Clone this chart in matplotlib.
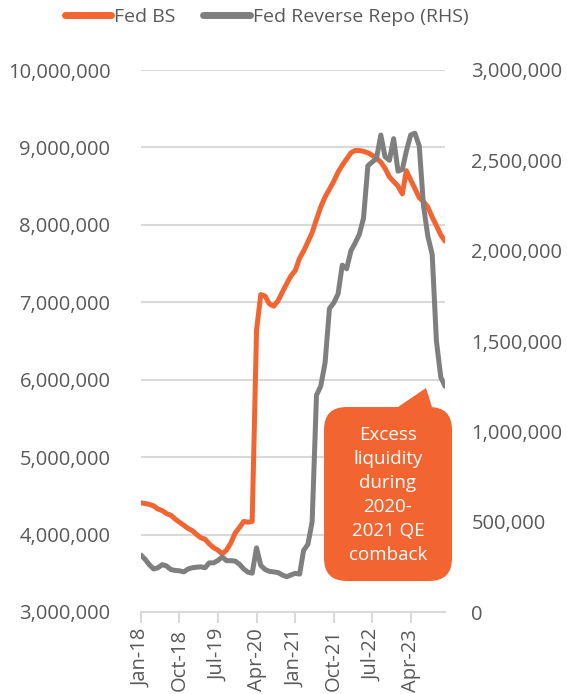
import matplotlib
matplotlib.use("Agg")
import matplotlib.pyplot as plt
import matplotlib.dates as mdates
from matplotlib.patches import FancyBboxPatch, Polygon
from matplotlib.ticker import FuncFormatter
import pandas as pd

plt.rcParams['font.family'] = ['Open Sans', 'DejaVu Sans']

# Datos mensuales, ene-2018 a dic-2023
fechas = pd.date_range('2018-01-01', periods=72, freq='MS')

# Balance de la Fed (eje izquierdo), en millones
fed_bs = [
    4.41, 4.40, 4.39, 4.37, 4.33, 4.31, 4.27, 4.25, 4.20, 4.16,
    4.12, 4.08, 4.05, 4.00, 3.96, 3.94, 3.88, 3.83, 3.80, 3.75,
    3.80, 3.89, 4.02, 4.09, 4.17, 4.16, 4.17, 6.64, 7.10, 7.08,
    6.98, 6.95, 7.02, 7.13, 7.24, 7.34, 7.41, 7.57, 7.66, 7.78,
    7.90, 8.07, 8.23, 8.36, 8.46, 8.56, 8.68, 8.77, 8.85, 8.93,
    8.96, 8.96, 8.95, 8.93, 8.90, 8.86, 8.81, 8.73, 8.62, 8.56,
    8.50, 8.40, 8.70, 8.58, 8.47, 8.35, 8.30, 8.23, 8.10, 7.99,
    7.87, 7.79,
]

# Reverse repo de la Fed (eje derecho), en millones
fed_rrp = [
    0.315, 0.290, 0.262, 0.238, 0.245, 0.262, 0.255, 0.235, 0.230, 0.228,
    0.222, 0.238, 0.245, 0.248, 0.250, 0.245, 0.272, 0.272, 0.285, 0.305,
    0.284, 0.284, 0.282, 0.265, 0.238, 0.220, 0.215, 0.355, 0.258, 0.235,
    0.225, 0.222, 0.218, 0.205, 0.195, 0.205, 0.214, 0.210, 0.340, 0.375,
    0.500, 1.200, 1.250, 1.380, 1.680, 1.710, 1.760, 1.920, 1.900, 2.000,
    2.040, 2.090, 2.180, 2.470, 2.490, 2.510, 2.640, 2.520, 2.500, 2.620,
    2.440, 2.450, 2.550, 2.640, 2.650, 2.580, 2.250, 2.080, 1.980, 1.500,
    1.300, 1.250,
]

etiquetas_leyenda = ['Fed BS', 'Fed Reverse Repo (RHS)']
texto_nota = 'Excess\nliquidity\nduring\n2020-\n2021 QE\ncomback'

naranja = '#F26531'
gris = '#7F7F7F'
gris_grid = '#D9D9D9'
gris_texto = '#595959'

fig = plt.figure(figsize=(5.67, 6.94), dpi=100)
ax = fig.add_axes([141 / 567, 1 - 612 / 694, (445 - 141) / 567, (612 - 70) / 694])
ax2 = ax.twinx()

l1, = ax.plot(fechas, [v * 1e6 for v in fed_bs], color=naranja, lw=3.6,
              solid_capstyle='round', solid_joinstyle='round', zorder=3)
l2, = ax2.plot(fechas, [v * 1e6 for v in fed_rrp], color=gris, lw=3.6,
               solid_capstyle='round', solid_joinstyle='round', zorder=3)

ax.set_xlim(fechas[0], fechas[-1])
ax.set_ylim(3e6, 10e6)
ax2.set_ylim(0, 3e6)
ax.set_yticks([3e6 + 1e6 * i for i in range(8)])
ax2.set_yticks([5e5 * i for i in range(7)])

fmt = FuncFormatter(lambda v, p: '{:,.0f}'.format(v))
ax.yaxis.set_major_formatter(fmt)
ax2.yaxis.set_major_formatter(fmt)

ax.set_xticks(fechas[::9])
ax.xaxis.set_major_formatter(mdates.DateFormatter('%b-%y'))
ax.tick_params(axis='x', rotation=90, length=8, width=1.5, color=gris_grid,
               labelsize=14.5, labelcolor=gris_texto, pad=4)
ax.tick_params(axis='y', length=0, labelsize=14.5, labelcolor=gris_texto, pad=22)
ax2.tick_params(axis='y', length=0, labelsize=14.5, labelcolor=gris_texto, pad=19)

ax.grid(axis='y', color=gris_grid, lw=1.5)
ax.set_axisbelow(True)
for a in (ax, ax2):
    for s in ['top', 'left', 'right', 'bottom']:
        a.spines[s].set_visible(False)
ax.spines['bottom'].set_visible(True)
ax.spines['bottom'].set_color(gris_grid)
ax.spines['bottom'].set_linewidth(1.5)

leg = fig.legend([l1, l2], etiquetas_leyenda, loc='center', ncol=2,
                 bbox_to_anchor=(0.47, 1 - 17 / 694), frameon=False,
                 fontsize=14, handlelength=2.4, handletextpad=0.15,
                 columnspacing=1.4)
for t in leg.get_texts():
    t.set_color(gris_texto)
for h in leg.get_lines():
    h.set_linewidth(5)
    h.set_solid_capstyle('round')

# Cuadro de comentario
W, H = 567, 694
caja = FancyBboxPatch((324 / W, 1 - 581 / H), 128 / W, 174 / H,
                      boxstyle='round,pad=0,rounding_size=0.04',
                      transform=fig.transFigure, facecolor=naranja,
                      edgecolor='none', zorder=5, mutation_aspect=W / H)
fig.patches.append(caja)
flecha = Polygon([(398 / W, 1 - 407 / H), (426 / W, 1 - 388 / H), (432 / W, 1 - 407 / H)],
                 closed=True, transform=fig.transFigure, facecolor=naranja,
                 edgecolor='none', zorder=5)
fig.patches.append(flecha)
fig.text(388 / W, 1 - 495 / H, texto_nota, color='white', fontsize=13.5,
         ha='center', va='center', linespacing=1.42, zorder=6)

plt.savefig('out.png', dpi=100)
